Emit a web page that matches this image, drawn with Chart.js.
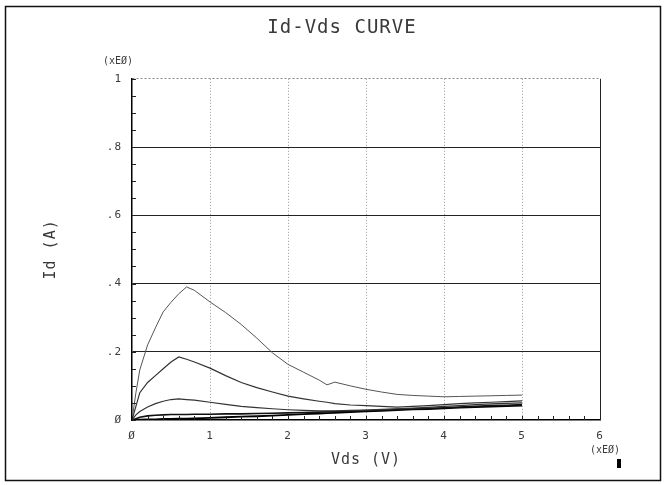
<!DOCTYPE html>
<html><head><meta charset="utf-8">
<script src="https://cdn.jsdelivr.net/npm/chart.js@4/dist/chart.umd.min.js"></script>
<style>html,body{margin:0;padding:0;background:#fff}#wrap{width:666px;height:485px}</style>
</head><body><div id="wrap"><canvas id="c" width="666" height="485"></canvas></div>
<script>
// ---- data ----
const vds = [0,0.05,0.1,0.2,0.3,0.4,0.5,0.6,0.7,0.8,1.0,1.2,1.4,1.6,1.8,2.0,2.2,2.4,2.5,2.6,2.8,3.0,3.2,3.4,3.6,3.8,4.0,4.2,4.4,4.6,4.8,5.0];
const id1 = [0,0.08,0.147,0.22,0.27,0.317,0.345,0.37,0.39,0.38,0.346,0.315,0.28,0.24,0.197,0.163,0.14,0.117,0.103,0.111,0.1,0.09,0.082,0.075,0.072,0.07,0.068,0.069,0.07,0.071,0.072,0.073];
const id2 = [0,0.04,0.08,0.11,0.13,0.15,0.17,0.185,0.178,0.17,0.152,0.13,0.11,0.095,0.082,0.07,0.062,0.055,0.052,0.048,0.044,0.042,0.04,0.038,0.04,0.042,0.045,0.048,0.05,0.052,0.054,0.056];
const id3 = [0,0.015,0.025,0.038,0.048,0.055,0.06,0.062,0.06,0.058,0.052,0.046,0.04,0.036,0.033,0.03,0.028,0.027,0.027,0.027,0.028,0.029,0.031,0.033,0.035,0.037,0.04,0.042,0.045,0.047,0.049,0.05];
const id4 = [0,0.004,0.008,0.012,0.014,0.015,0.016,0.016,0.016,0.017,0.017,0.018,0.018,0.019,0.02,0.021,0.022,0.023,0.024,0.025,0.026,0.028,0.029,0.031,0.033,0.034,0.036,0.038,0.04,0.042,0.043,0.045];
const id5 = [0,0.001,0.001,0.002,0.002,0.003,0.003,0.004,0.004,0.005,0.006,0.008,0.01,0.011,0.013,0.015,0.017,0.019,0.02,0.021,0.023,0.025,0.027,0.029,0.031,0.032,0.034,0.036,0.038,0.039,0.041,0.042];
const xMajorTicks = [0,1,2,3,4,5,6];
const xTickLabels = ['Ø','1','2','3','4','5','6'];
const yMajorTicks = [0,0.2,0.4,0.6,0.8,1];
const yTickLabels = ['Ø','.2','.4','.6','.8','1'];
const xMinorStep = 0.2, yMinorStep = 0.05;
const titleText = 'Id-Vds CURVE';
const xTitle = 'Vds (V)', yTitle = 'Id (A)', expLabel = '(xEØ)';

const pts = arr => arr.map((v,i)=>({x:vds[i], y:v}));
const near = (a,b)=>Math.abs(a-b)<1e-6;
const majorIdx = (list,v)=>list.findIndex(m=>near(m,v));
function minorList(max, step){const r=[];const n=Math.round(max/step);for(let i=0;i<=n;i++)r.push({value:+(i*step).toFixed(4)});return r;}

const MONO = '"DejaVu Sans Mono", monospace';
const ink = '#3a3a3a';

const extras = {
  id:'extras',
  beforeDraw(chart){
    const c=chart.ctx; c.save();
    c.fillStyle='#fff'; c.fillRect(0,0,chart.width,chart.height);
    c.strokeStyle='#111'; c.lineWidth=1.5;
    c.strokeRect(5.5,6.5,655,474);
    c.restore();
    c.letterSpacing='1px';
  },
  beforeDatasetsDraw(chart){ chart.ctx.letterSpacing='0px'; },
  afterDraw(chart){
    const c=chart.ctx, xs=chart.scales.x, ys=chart.scales.y, a=chart.chartArea;
    c.save();
    c.strokeStyle='#222'; c.lineWidth=1;
    // inner tick marks
    ys.ticks.forEach(t=>{const p=Math.round(ys.getPixelForValue(t.value))+0.5;c.beginPath();c.moveTo(a.left,p);c.lineTo(a.left+4,p);c.stroke();});
    xs.ticks.forEach(t=>{const p=Math.round(xs.getPixelForValue(t.value))+0.5;c.beginPath();c.moveTo(p,a.bottom);c.lineTo(p,a.bottom-4);c.stroke();});
    c.fillStyle=ink; c.font='10px '+MONO; c.textAlign='center'; c.textBaseline='middle';
    c.fillText(expLabel, a.left-14, a.top-17);
    c.fillText(expLabel, a.right+5, a.bottom+30);
    c.fillStyle='#000'; c.fillRect(617,459,4,9);
    c.restore();
  }
};

const ds = (data, color, w)=>({data:pts(data), borderColor:color, borderWidth:w, pointRadius:0, fill:false, tension:0});

new Chart(document.getElementById('c'), {
  type:'line',
  data:{datasets:[ds(id1,'#555',1), ds(id2,'#333',1.2), ds(id3,'#333',1.2), ds(id4,'#111',1.6), ds(id5,'#000',1.8)]},
  options:{
    responsive:false, animation:false, devicePixelRatio:1,
    layout:{padding:{left:18,right:0,top:0,bottom:0}},
    plugins:{
      legend:{display:false}, tooltip:{enabled:false},
      title:{display:true, text:titleText, color:ink, font:{family:MONO, size:19, weight:'normal', lineHeight:1.2}, padding:{top:17,bottom:39}}
    },
    scales:{
      x:{type:'linear', min:0, max:6,
        afterBuildTicks:s=>{s.ticks=minorList(6,xMinorStep);},
        afterFit:s=>{s.height=65;},
        ticks:{autoSkip:false, maxRotation:0, color:ink, font:{family:MONO,size:11}, padding:10,
          callback:v=>{const i=majorIdx(xMajorTicks,v);return i>=0?xTickLabels[i]:'';}},
        grid:{drawTicks:false, lineWidth:1,
          color:ctx=>{const v=ctx.tick?ctx.tick.value:-1;const i=majorIdx(xMajorTicks,v);if(i<=0)return 'rgba(0,0,0,0)';return near(v,6)?'#222':'#999';}},
        border:{display:true,color:'#000',width:1.5,
          dash:ctx=>{const v=ctx.tick?ctx.tick.value:0;return near(v,6)?[]:[1,2];}},
        title:{display:true,text:xTitle,color:ink,font:{family:MONO,size:15},padding:{top:0,bottom:16}}
      },
      y:{type:'linear', min:0, max:1,
        afterBuildTicks:s=>{s.ticks=minorList(1,yMinorStep);},
        afterFit:s=>{s.width=114;},
        ticks:{autoSkip:false, color:ink, font:{family:MONO,size:11}, padding:10,
          callback:v=>{const i=majorIdx(yMajorTicks,v);return i>=0?yTickLabels[i]:'';}},
        grid:{drawTicks:false, lineWidth:1,
          color:ctx=>{const v=ctx.tick?ctx.tick.value:-1;const i=majorIdx(yMajorTicks,v);if(i<=0)return 'rgba(0,0,0,0)';return near(v,1)?'#888':'#222';}},
        border:{display:true,color:'#000',width:1.5,
          dash:ctx=>{const v=ctx.tick?ctx.tick.value:0;return near(v,1)?[2,2]:[];}},
        title:{display:true,text:yTitle,color:ink,font:{family:MONO,size:15},padding:{top:24,bottom:0}}
      },
      yR:{type:'linear', position:'right', display:true, min:0, max:1,
        afterFit:s=>{s.width=66;},
        ticks:{display:false}, grid:{display:false, drawOnChartArea:false}, border:{display:false}}
    }
  },
  plugins:[extras]
});
</script></body></html>
